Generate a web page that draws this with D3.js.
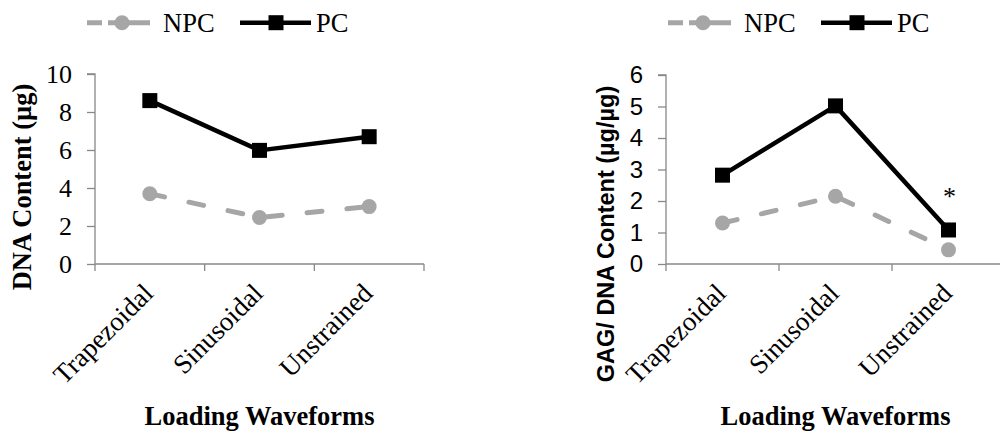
<!DOCTYPE html>
<html>
<head>
<meta charset="utf-8">
<script src="https://cdn.jsdelivr.net/npm/d3@7"></script>
<style>
  html, body { margin: 0; padding: 0; background: #fff; }
  svg { display: block; }
</style>
</head>
<body>
<svg id="chart" width="1000" height="432"></svg>
<script>
// ---------------- data ----------------
const categories = ["Trapezoidal", "Sinusoidal", "Unstrained"];
const seriesNames = ["NPC", "PC"];

// Left panel: DNA content (µg)
const dnaNPC = [3.7, 2.45, 3.02];
const dnaPC  = [8.6, 5.98, 6.7];
const dnaTicks = [0, 2, 4, 6, 8, 10];

// Right panel: GAG/DNA content (µg/µg)
const gagNPC = [1.3, 2.15, 0.45];
const gagPC  = [2.82, 5.02, 1.08];
const gagTicks = [0, 1, 2, 3, 4, 5, 6];
const gagMarks = ["", "", "*"];   // significance marker above PC

const xTitle = "Loading Waveforms";
const leftYTitle = "DNA Content (\u00b5g)";
const rightYTitle = "GAG/ DNA Content (\u00b5g/\u00b5g)";

// ---------------- style ----------------
const AXIS = "#888888";
const GRAY = "#a6a6a6";
const BLACK = "#000000";
const SERIF = "'Liberation Serif','Times New Roman',serif";
const SANS = "'Liberation Sans',Arial,sans-serif";

const svg = d3.select("#chart");

function panel(cfg) {
  const g = svg.append("g");
  const x = d3.scaleBand().domain(categories).range([cfg.x0, cfg.x1]).padding(0);
  const y = d3.scaleLinear().domain([cfg.ticks[0], cfg.ticks[cfg.ticks.length - 1]]).range([cfg.yBottom, cfg.yTop]);
  const cx = c => x(c) + x.bandwidth() / 2;

  // y axis
  const yAxis = d3.axisLeft(y).tickValues(cfg.ticks).tickSize(8).tickPadding(15).tickFormat(d3.format("d"));
  const ya = g.append("g").attr("transform", `translate(${cfg.x0},0)`).call(yAxis);
  ya.select(".domain").attr("stroke", AXIS).attr("stroke-width", 1.3).attr("d", `M-8,${cfg.yTop}H0V${cfg.yBottom}`);
  ya.selectAll(".tick line").attr("stroke", AXIS).attr("stroke-width", 1.3);
  ya.selectAll(".tick text").attr("fill", "#000").style("font-family", cfg.tickFont).style("font-size", cfg.tickSize + "px");

  // x axis line + boundary ticks
  const xa = g.append("g");
  xa.append("line").attr("x1", cfg.x0).attr("x2", cfg.x1).attr("y1", cfg.yBottom).attr("y2", cfg.yBottom)
    .attr("stroke", AXIS).attr("stroke-width", 1.3);
  const bounds = categories.map(c => x(c)).concat([cfg.x1]);
  xa.selectAll("line.tk").data(bounds).enter().append("line").attr("class", "tk")
    .attr("x1", d => d).attr("x2", d => d).attr("y1", cfg.yBottom).attr("y2", cfg.yBottom + 7)
    .attr("stroke", AXIS).attr("stroke-width", 1.3);
  xa.selectAll("text.cat").data(categories).enter().append("text").attr("class", "cat")
    .attr("transform", d => `translate(${cx(d) + 5},${cfg.yBottom + 31}) rotate(-45)`)
    .attr("text-anchor", "end")
    .style("font-family", SERIF).style("font-size", "27px")
    .text(d => d);

  // x title
  g.append("text").attr("x", (cfg.x0 + cfg.x1) / 2).attr("y", 425).attr("text-anchor", "middle")
    .style("font-family", SERIF).style("font-size", "26.5px").style("font-weight", "bold").text(xTitle);

  // y title
  g.append("text").attr("transform", `translate(${cfg.yTitleX},${cfg.yTitleY}) rotate(-90)`)
    .attr("text-anchor", "middle")
    .style("font-family", cfg.yTitleFont).style("font-size", cfg.yTitleSize + "px").style("font-weight", "bold")
    .text(cfg.yTitle);

  const line = d3.line().x((d, i) => cx(categories[i])).y(d => y(d));

  // NPC dashed grey
  g.append("path").datum(cfg.npc).attr("d", line).attr("fill", "none")
    .attr("stroke", GRAY).attr("stroke-width", 5).attr("stroke-dasharray", "15,25").attr("stroke-linecap", "round");
  g.selectAll("circle.npc").data(cfg.npc).enter().append("circle").attr("class", "npc")
    .attr("cx", (d, i) => cx(categories[i])).attr("cy", d => y(d)).attr("r", 7.5).attr("fill", GRAY);

  // PC solid black
  g.append("path").datum(cfg.pc).attr("d", line).attr("fill", "none")
    .attr("stroke", BLACK).attr("stroke-width", 4.5).attr("stroke-linejoin", "round");
  g.selectAll("rect.pc").data(cfg.pc).enter().append("rect").attr("class", "pc")
    .attr("x", (d, i) => cx(categories[i]) - 7.5).attr("y", d => y(d) - 7.5)
    .attr("width", 15).attr("height", 15).attr("fill", BLACK);

  // significance marks
  if (cfg.marks) {
    g.selectAll("text.mark").data(cfg.pc).enter().append("text").attr("class", "mark")
      .attr("x", (d, i) => cx(categories[i]) + 1).attr("y", d => y(d) - 25)
      .attr("text-anchor", "middle").style("font-family", SERIF).style("font-size", "26px")
      .text((d, i) => cfg.marks[i]);
  }

  // legend
  const lg = g.append("g").attr("transform", `translate(${cfg.legX},0)`);
  const ly = 22.7;
  lg.append("line").attr("x1", 0).attr("x2", 63).attr("y1", ly).attr("y2", ly)
    .attr("stroke", GRAY).attr("stroke-width", 5).attr("stroke-dasharray", "15,6,42").attr("stroke-linecap", "butt");
  lg.append("circle").attr("cx", 35).attr("cy", ly).attr("r", 7.5).attr("fill", GRAY);
  lg.append("text").attr("x", 76).attr("y", 32).style("font-family", SERIF).style("font-size", "26.5px").text(seriesNames[0]);
  lg.append("line").attr("x1", 153).attr("x2", 224).attr("y1", ly).attr("y2", ly)
    .attr("stroke", BLACK).attr("stroke-width", 4.5);
  lg.append("rect").attr("x", 189 - 7.5).attr("y", ly - 7.5).attr("width", 15).attr("height", 15).attr("fill", BLACK);
  lg.append("text").attr("x", 229).attr("y", 32).style("font-family", SERIF).style("font-size", "26.5px").text(seriesNames[1]);
}

panel({
  x0: 95, x1: 424, yTop: 74, yBottom: 264,
  ticks: dnaTicks, npc: dnaNPC, pc: dnaPC,
  tickFont: SERIF, tickSize: 26,
  yTitle: leftYTitle, yTitleFont: SERIF, yTitleSize: 26.5, yTitleX: 31, yTitleY: 187,
  legX: 87
});

panel({
  x0: 666, x1: 1005, yTop: 75, yBottom: 264,
  ticks: gagTicks, npc: gagNPC, pc: gagPC, marks: gagMarks,
  tickFont: SANS, tickSize: 24,
  yTitle: rightYTitle, yTitleFont: SANS, yTitleSize: 23.5, yTitleX: 614, yTitleY: 234,
  legX: 668
});
</script>
</body>
</html>
